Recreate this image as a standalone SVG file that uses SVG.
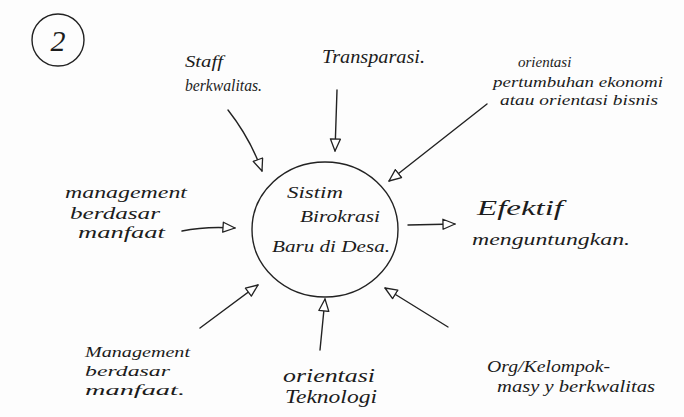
<svg xmlns="http://www.w3.org/2000/svg" width="684" height="417" viewBox="0 0 684 417">
<defs>
<style>
.t{font-family:"Liberation Serif","DejaVu Serif",serif;font-style:italic;font-size:16px;fill:#1c1c1c}
.s14{font-size:14px}
.s15{font-size:15px}
.s18{font-size:18px}
.s20{font-size:20px}
.s28{font-size:30px}
.ln{fill:none;stroke:#222;stroke-width:1.4;stroke-linecap:round}
.shape{fill:none;stroke:#222;stroke-width:1.4}
</style>
<marker id="oh" viewBox="0 0 14 12" refX="13" refY="6" markerWidth="14" markerHeight="12" markerUnits="userSpaceOnUse" orient="auto">
<path d="M1,1 L13,6 L1,11 Z" fill="#fff" stroke="#222" stroke-width="1.3" stroke-linejoin="round"/>
</marker>
</defs>
<rect width="684" height="417" fill="#fdfdfd"/>

<g id="num">
<circle class="shape" cx="58" cy="40" r="26"/>
<text class="t s28" x="58" y="51" text-anchor="middle">2</text>
</g>

<g id="center">
<ellipse class="shape" cx="325" cy="229.5" rx="73" ry="67.5"/>
<text class="t" x="287" y="198" textLength="56" lengthAdjust="spacingAndGlyphs">Sistim</text>
<text class="t" x="300" y="222" textLength="80" lengthAdjust="spacingAndGlyphs">Birokrasi</text>
<text class="t" x="272" y="252" textLength="118" lengthAdjust="spacingAndGlyphs">Baru di Desa.</text>
</g>

<g id="staff">
<text class="t" x="185" y="67" textLength="38" lengthAdjust="spacingAndGlyphs">Staff</text>
<text class="t" x="185" y="91" textLength="77" lengthAdjust="spacingAndGlyphs">berkwalitas.</text>
</g>

<g id="transparasi">
<text class="t s18" x="322" y="63" textLength="103" lengthAdjust="spacingAndGlyphs">Transparasi.</text>
</g>

<g id="orientasi-ekonomi">
<text class="t s15" x="518" y="67">orientasi</text>
<text class="t s14" x="493" y="87" textLength="170" lengthAdjust="spacingAndGlyphs">pertumbuhan ekonomi</text>
<text class="t s14" x="500" y="105" textLength="158" lengthAdjust="spacingAndGlyphs">atau orientasi bisnis</text>
</g>

<g id="management-1">
<text class="t" x="65" y="198" textLength="122" lengthAdjust="spacingAndGlyphs">management</text>
<text class="t" x="70" y="219" textLength="90" lengthAdjust="spacingAndGlyphs">berdasar</text>
<text class="t" x="78" y="238" textLength="87" lengthAdjust="spacingAndGlyphs">manfaat</text>
</g>

<g id="efektif">
<text class="t s20" x="477" y="215" textLength="86" lengthAdjust="spacingAndGlyphs">Efektif</text>
<text class="t" x="472" y="245" textLength="158" lengthAdjust="spacingAndGlyphs">menguntungkan.</text>
</g>

<g id="management-2">
<text class="t s15" x="85" y="357" textLength="105" lengthAdjust="spacingAndGlyphs">Management</text>
<text class="t s15" x="85" y="376" textLength="85" lengthAdjust="spacingAndGlyphs">berdasar</text>
<text class="t s15" x="85" y="395" textLength="100" lengthAdjust="spacingAndGlyphs">manfaat.</text>
</g>

<g id="teknologi">
<text class="t s18" x="283" y="382" textLength="92" lengthAdjust="spacingAndGlyphs">orientasi</text>
<text class="t s18" x="285" y="403" textLength="92" lengthAdjust="spacingAndGlyphs">Teknologi</text>
</g>

<g id="kelompok">
<text class="t" x="487" y="372" textLength="123" lengthAdjust="spacingAndGlyphs">Org/Kelompok-</text>
<text class="t" x="497" y="392" textLength="158" lengthAdjust="spacingAndGlyphs">masy y berkwalitas</text>
</g>

<g id="connectors">
<path class="ln" d="M228,110 Q250,138 262,171" marker-end="url(#oh)"/>
<path class="ln" d="M337,90 L335,151" marker-end="url(#oh)"/>
<path class="ln" d="M487,104 L389,181" marker-end="url(#oh)"/>
<path class="ln" d="M182,231 Q205,226 235,228" marker-end="url(#oh)"/>
<path class="ln" d="M408,225 L455,224" marker-end="url(#oh)"/>
<path class="ln" d="M200,328 L258,285" marker-end="url(#oh)"/>
<path class="ln" d="M320,350 L325,299" marker-end="url(#oh)"/>
<path class="ln" d="M448,327 L385,288" marker-end="url(#oh)"/>
</g>
</svg>
